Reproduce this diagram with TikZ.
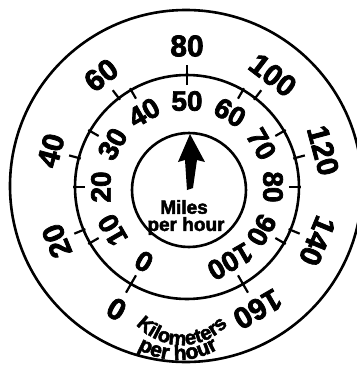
\documentclass[tikz,border=0pt]{standalone}
\usepackage{fontspec}
\setmainfont{Liberation Sans}
\newfontfamily\heavy{Liberation Sans Bold}[FakeBold=2.5]
\usetikzlibrary{calc}
\tikzset{
  ring/.style={draw=black, line width=2.6pt},
  tick/.style={draw=black, line width=2.2pt},
  kmlabel/.style={font=\heavy\fontsize{30}{30}\selectfont, inner sep=0pt},
  mphlabel/.style={font=\heavy\fontsize{28}{28}\selectfont, inner sep=0pt},
  centertext/.style={font=\heavy\fontsize{19}{19}\selectfont, inner sep=0pt},
  kmword/.style={font=\heavy\fontsize{20}{20}\selectfont, inner sep=0pt, anchor=base},
  phword/.style={font=\heavy\fontsize{21}{21}\selectfont, inner sep=0pt, anchor=base}
}
\begin{document}
\begin{tikzpicture}[x=1pt,y=1pt]
\useasboundingbox (-187,-181) rectangle (170,187);
\clip (-187,-181) rectangle (170,187);
% circles
\coordinate (C) at (0,0);
\draw[ring] (-1,1) circle[radius=176];
\draw[ring] (C) circle[radius=112];
\draw[ring] (2,-3) circle[radius=57];
% km/h ticks (outward)
\foreach \v in {0,20,...,160}{
  \pgfmathsetmacro{\a}{240-1.875*\v}
  \draw[tick] (\a:110) -- (\a:122);
  \node[kmlabel, rotate=\a-90] (kmh\v) at (\a:141) {\v};
}
% mph ticks (inward)
\foreach \m in {0,10,...,100}{
  \pgfmathsetmacro{\a}{240-3*\m}
  \draw[tick] (\a:102) -- (\a:114);
  \node[mphlabel, rotate=\a-90] (mph\m) at (\a:86) {\m};
}
% arrow
\fill[black] (3,53) -- (18,25) -- (10,27) -- (6,-1) -- (0,-3) -- (-2,27) -- (-9,25) -- cycle;
\node[centertext] (miles) at (-3,-20) {Miles};
\node[centertext] (perhour) at (-1,-39) {per hour};
% curved texts, letter by letter
\coordinate (K0) at (-5,-96);
\foreach \ch/\t [count=\i] in {K/228.9, i/238.2, l/243.3, o/251.5, m/265.4, e/278.7, t/286.9, e/295.2, r/303.9, s/312.6}{
  \node[kmword, rotate=\t+90] (kl\i) at ($(K0)+(\t:62)$) {\ch};
}
\coordinate (P0) at (-9,-94);
\foreach \ch/\t [count=\i] in {p/243.8, e/252.6, r/259.9, h/271.7, o/281.0, u/290.3, r/297.9}{
  \node[phword, rotate=\t+90] (pl\i) at ($(P0)+(\t:79)$) {\ch};
}
\end{tikzpicture}
\end{document}
